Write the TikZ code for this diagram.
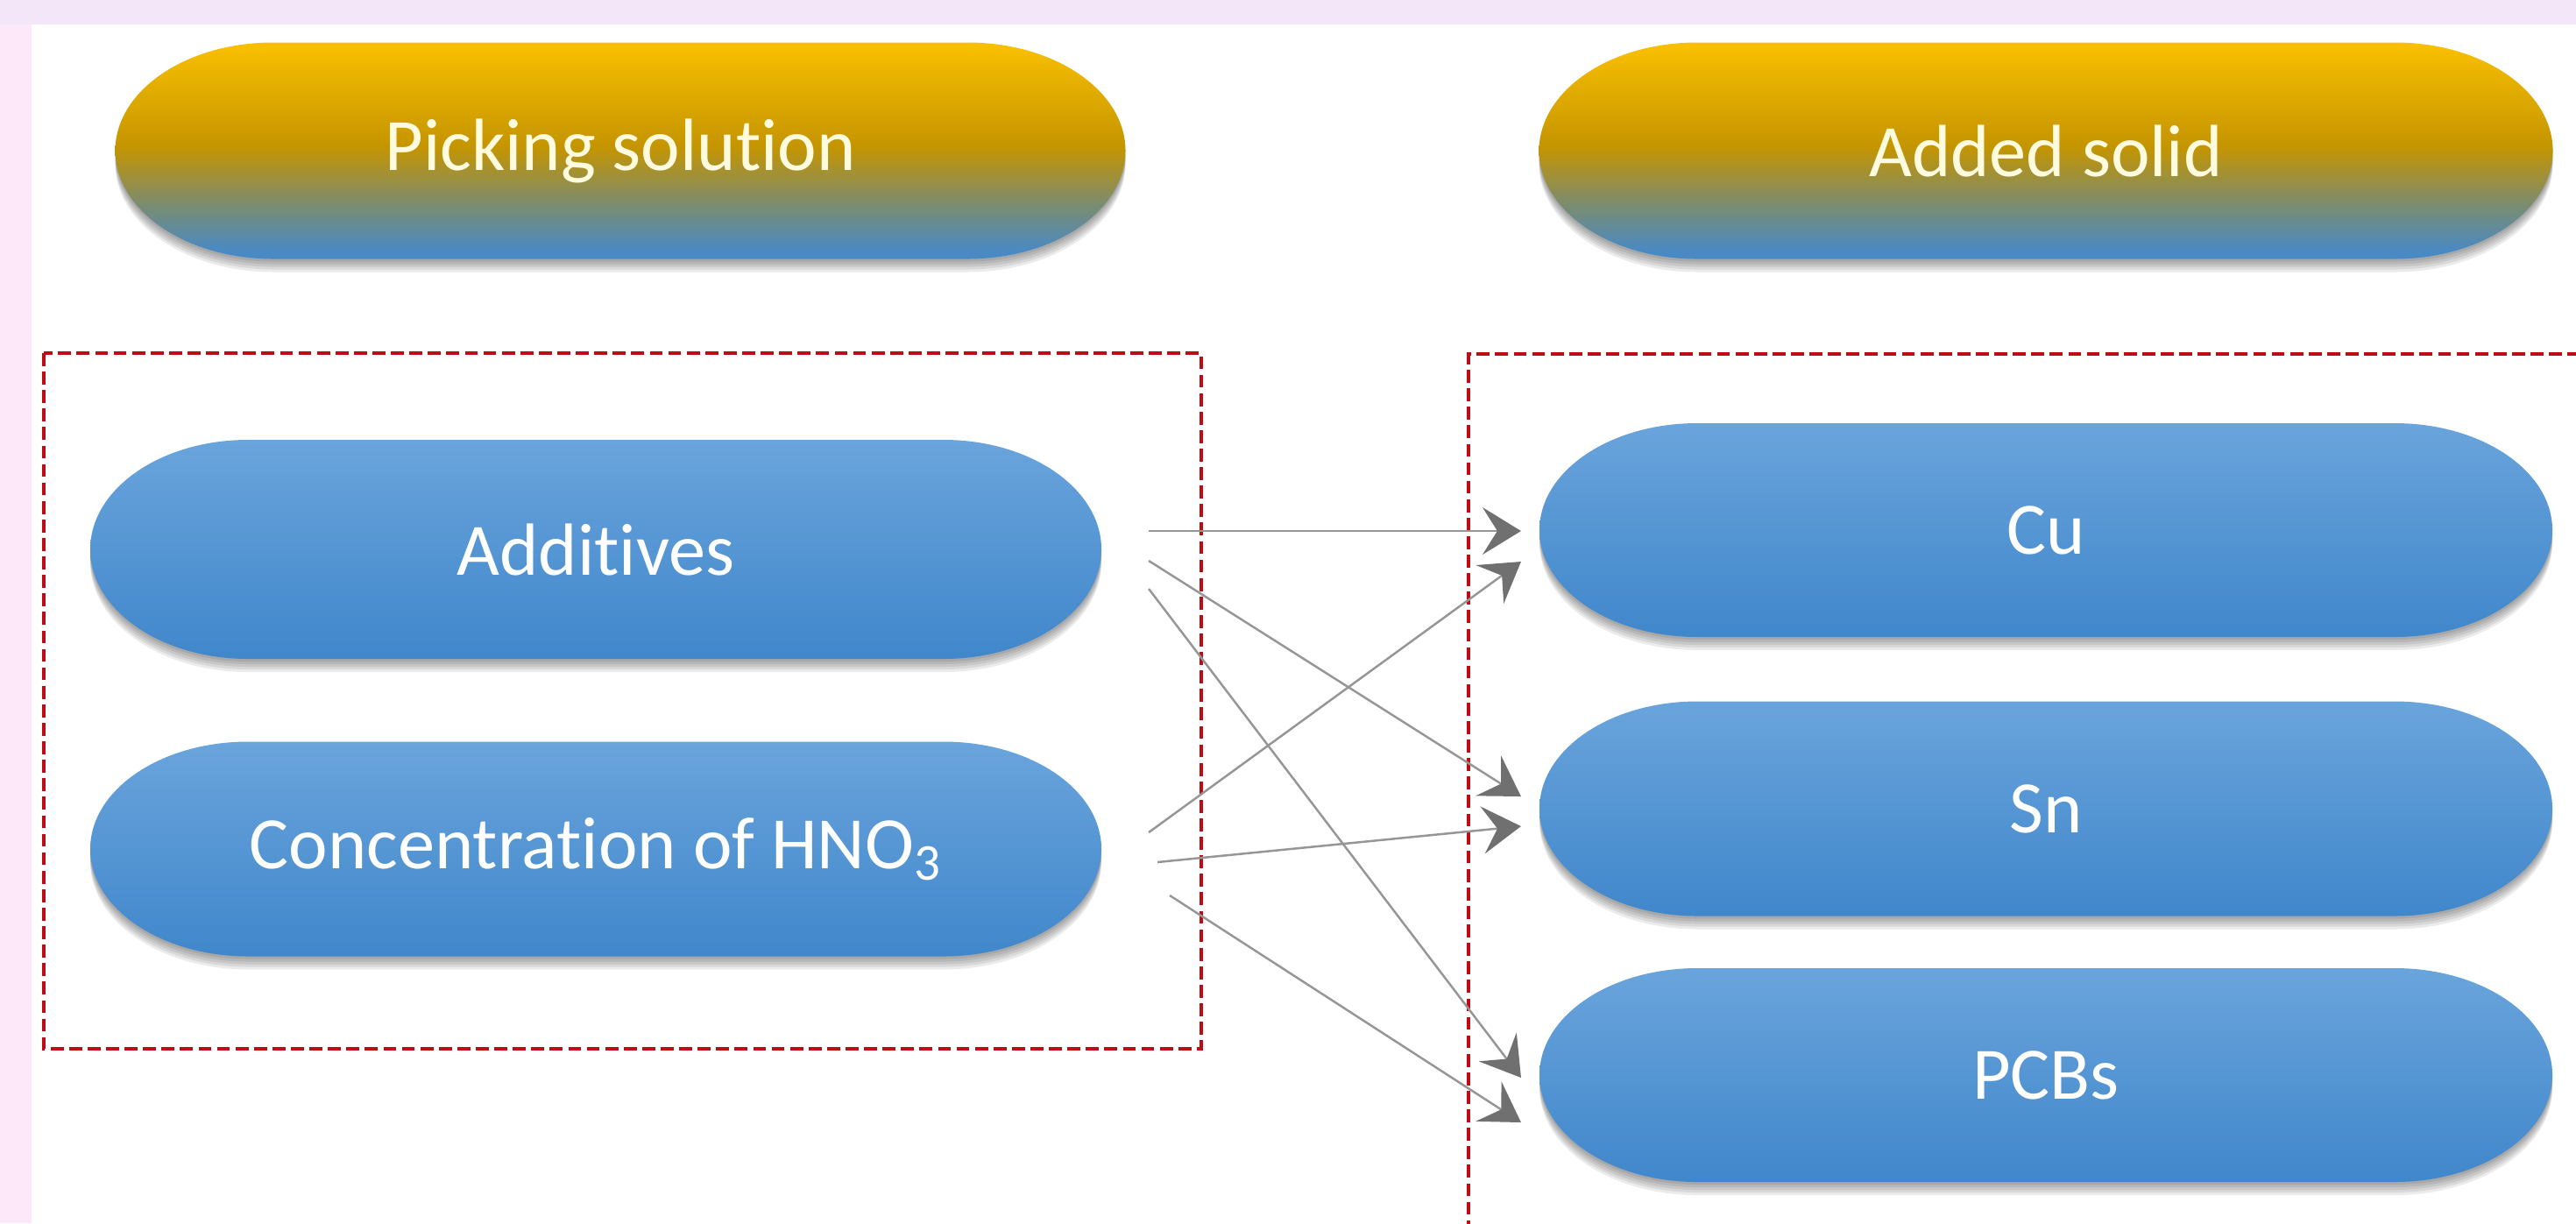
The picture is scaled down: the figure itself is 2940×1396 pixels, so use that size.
\documentclass[tikz,border=0pt]{standalone}
\usepackage{fontspec}
\setmainfont{Carlito}[Ligatures={NoCommon,NoRare,NoContextual}]
\usetikzlibrary{arrows.meta,calc}
\definecolor{topband}{RGB}{243,230,248}
\definecolor{leftband}{RGB}{252,232,248}
\definecolor{boxred}{RGB}{190,12,22}
\definecolor{nblue}{RGB}{74,138,196}
\definecolor{olivemid}{RGB}{122,140,112}
\definecolor{dkgold}{RGB}{197,149,0}
\definecolor{ltgold}{RGB}{250,192,0}
\definecolor{bluetop}{RGB}{106,164,220}
\definecolor{bluebot}{RGB}{64,135,203}
\definecolor{linegray}{RGB}{150,150,150}
\definecolor{headgray}{RGB}{112,112,112}
\definecolor{creamtext}{RGB}{255,251,222}
\pgfdeclareverticalshading{goldblue}{100bp}{color(0bp)=(nblue); color(27bp)=(nblue); color(37.5bp)=(olivemid); color(51bp)=(dkgold); color(75bp)=(ltgold); color(100bp)=(ltgold)}
\def\cappath#1#2{({-(#1)/2+180},{(#2)/2}) -- ({(#1)/2-180},{(#2)/2}) arc[start angle=90,end angle=-90,x radius=180,y radius={(#2)/2}] -- ({-(#1)/2+180},{-(#2)/2}) arc[start angle=270,end angle=90,x radius=180,y radius={(#2)/2}] -- cycle}
\newcommand\capsule[8]{%
  \begin{scope}[shift={(#2,-#3)}]
    \foreach \s in {3,6,9,12,15}{\fill[black,opacity=0.08,shift={(0,-\s)}] \cappath{#4}{#5};}
    \shade[#6] \cappath{#4}{#5};
  \end{scope}
  \node[capnode,minimum width={#4*0.1mm},minimum height={#5*0.1mm},text=#7] (#1) at (#2,-#3) {#8};
}
\begin{document}
\begin{tikzpicture}[x=0.01cm,y=0.01cm,
  capnode/.style={rectangle,draw=none,inner sep=0pt,align=center,font=\fontsize{24}{29}\selectfont},
  redbox/.style={draw=boxred,line width=1.3pt,dash pattern=on 4.2pt off 1.8pt},
  conn/.style={draw=linegray,line width=0.7pt,-{Stealth[length=4.4mm,width=5.4mm,inset=1.7mm,color=headgray]}}]
\useasboundingbox (0,0) rectangle (2940,-1396);
\fill[white] (0,0) rectangle (2940,-1396);
\fill[topband] (0,0) rectangle (2940,-28);
\fill[leftband] (0,-28) rectangle (36,-1396);
% dashed group frames
\draw[redbox] (50,-403) rectangle (1371,-1197);
\draw[redbox] (2945,-404) -- (1676,-404) -- (1676,-1402);
% capsules
\capsule{pick}{708}{172}{1153}{247}{shading=goldblue}{creamtext}{Picking solution}
\capsule{added}{2335}{172}{1157}{247}{shading=goldblue}{creamtext}{Added solid}
\capsule{add}{680}{627}{1154}{250}{top color=bluetop,bottom color=bluebot}{white}{Additives}
\capsule{conc}{680}{969}{1154}{245}{top color=bluetop,bottom color=bluebot}{white}{Concentration of HNO\textsubscript{3}}
\capsule{cu}{2335}{605}{1156}{244}{top color=bluetop,bottom color=bluebot}{white}{Cu}
\capsule{sn}{2335}{923}{1156}{245}{top color=bluetop,bottom color=bluebot}{white}{Sn}
\capsule{pcbs}{2335}{1227}{1156}{244}{top color=bluetop,bottom color=bluebot}{white}{PCBs}
% connectors
\draw[conn] ($(add.east)+(53,21)$) -- ($(cu.west)+(-20,-1)$);
\draw[conn] ($(conc.east)+(53,19)$) -- ($(cu.west)+(-20,-36)$);
\draw[conn] ($(add.east)+(53,-13)$) -- ($(sn.west)+(-20,14)$);
\draw[conn] ($(add.east)+(53,-45)$) -- ($(pcbs.west)+(-20,-3)$);
\draw[conn] ($(conc.east)+(63,-15)$) -- ($(sn.west)+(-20,-20)$);
\draw[conn] ($(conc.east)+(77,-53)$) -- ($(pcbs.west)+(-20,-54)$);
\end{tikzpicture}
\end{document}
